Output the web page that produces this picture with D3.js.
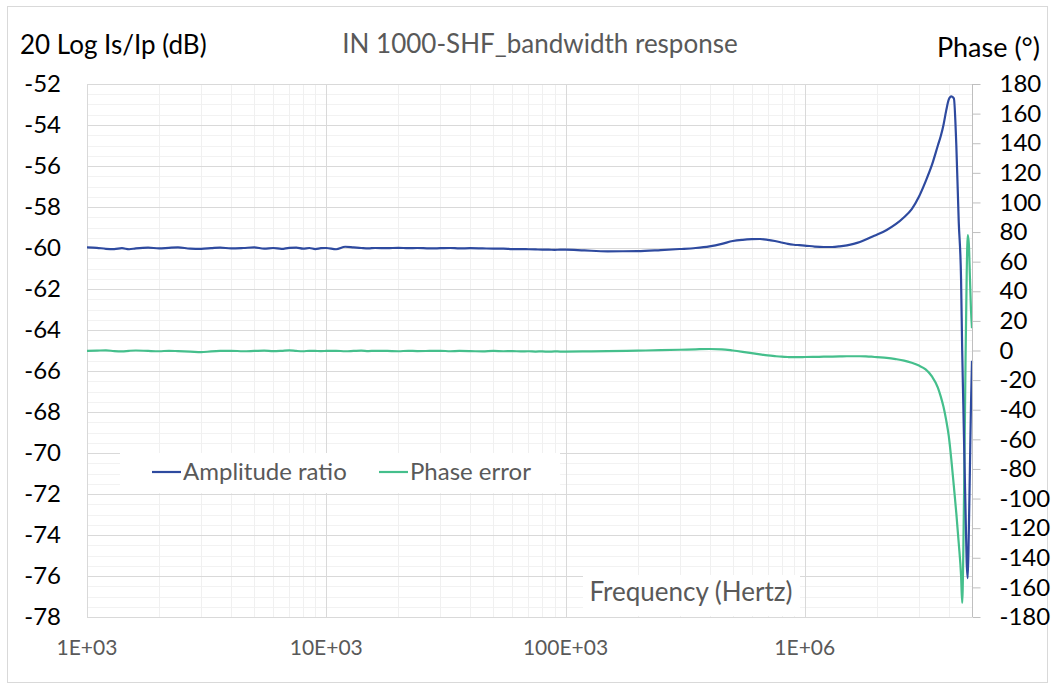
<!DOCTYPE html>
<html>
<head>
<meta charset="utf-8">
<script src="https://cdn.jsdelivr.net/npm/d3@7"></script>
<style>
  body { margin: 0; background: #fff; }
  text { font-family: Lato, "Open Sans", sans-serif; }
</style>
</head>
<body>
<div id="chart"></div>
<script>
// Frequencies in Hz
const freq = [
  1000, 1100, 1200, 1300, 1400, 1500, 1600, 1800, 2000, 2200, 2400, 2700, 3000, 3300, 3600, 4000, 4500, 5000, 5500, 6000, 6500, 7000, 7500, 8000, 8500, 9000, 9500,
  10000, 11000, 12000, 13000, 14000, 15000, 16000, 18000, 20000, 22000, 24000, 27000, 30000, 33000, 36000, 40000, 45000, 50000, 55000, 60000, 65000, 70000, 75000, 80000, 85000, 90000, 95000,
  100000, 120000, 150000, 200000, 250000, 300000, 350000, 400000, 450000, 500000, 550000, 600000, 650000, 700000, 750000, 800000, 850000, 900000, 950000,
  1.0e6, 1.1e6, 1.2e6, 1.3e6, 1.4e6, 1.5e6, 1.6e6, 1.7e6, 1.8e6, 1.9e6, 2.0e6, 2.2e6, 2.4e6, 2.6e6, 2.8e6, 3.0e6, 3.2e6, 3.4e6, 3.6e6, 3.7e6, 3.8e6, 3.9e6,
  4.0e6, 4.1e6, 4.2e6, 4.3e6, 4.4e6, 4.5e6, 4.55e6, 4.6e6, 4.65e6, 4.7e6, 4.75e6, 4.8e6, 4.85e6, 4.9e6, 4.95e6, 5.0e6
];

// Amplitude ratio, 20 log Is/Ip (dB)
const amplitude = [
  -59.97, -59.99, -60.04, -60.05, -60.01, -60.06, -60.02, -59.98, -60.02, -59.99, -59.97, -60.03, -60.04, -60.01, -59.98, -60.02, -60.0, -59.97, -60.03, -60.0, -60.04, -59.99, -59.98, -60.03, -60.0, -60.05, -60.01,
  -60.0, -60.06, -59.94, -59.97, -60.0, -60.02, -60.0, -60.01, -59.99, -60.01, -60.0, -60.02, -60.01, -60.0, -60.02, -60.01, -60.02, -60.03, -60.03, -60.05, -60.05, -60.06, -60.07, -60.08, -60.08, -60.09, -60.08,
  -60.08, -60.12, -60.16, -60.15, -60.1, -60.05, -60.0, -59.92, -59.8, -59.66, -59.6, -59.57, -59.56, -59.6, -59.66, -59.73, -59.8, -59.84, -59.86,
  -59.88, -59.93, -59.95, -59.95, -59.92, -59.87, -59.8, -59.71, -59.59, -59.46, -59.35, -59.12, -58.84, -58.5, -58.1, -57.5, -56.75, -55.95, -55.0, -54.55, -54.0, -53.3,
  -52.75, -52.6, -52.7, -55.0, -58.7, -61.5, -65.0, -67.7, -70.4, -72.9, -75.3, -76.1, -73.8, -70.8, -67.7, -65.5
];

// Phase error (degrees)
const phase = [
  -0.3, -0.1, 0.1, -0.4, -0.6, -0.2, 0.0, -0.3, -0.5, -0.2, -0.4, -0.7, -1.1, -0.6, -0.3, -0.2, -0.5, -0.3, -0.1, -0.4, -0.2, 0.1, -0.3, -0.5, -0.2, -0.3, -0.4,
  -0.3, -0.2, -0.5, -0.3, -0.1, -0.4, -0.2, -0.3, -0.5, -0.2, -0.4, -0.3, -0.2, -0.5, -0.3, -0.4, -0.6, -0.3, -0.5, -0.4, -0.6, -0.5, -0.7, -0.6, -0.8, -0.6, -0.7,
  -0.7, -0.6, -0.4, -0.1, 0.2, 0.5, 0.8, 1.0, 0.8, 0.0, -0.9, -1.8, -2.6, -3.3, -3.8, -4.2, -4.4, -4.5, -4.5,
  -4.4, -4.3, -4.2, -4.1, -4.0, -3.9, -3.9, -3.9, -4.0, -4.2, -4.5, -5.0, -5.8, -6.8, -8.3, -10.2, -12.8, -17.5, -25.0, -31.0, -38.0, -47.0,
  -58.0, -74.0, -92.0, -110.0, -130.0, -152.0, -170.5, -135.0, -75.0, -5.0, 50.0, 78.0, 72.0, 50.0, 28.0, 15.0
];

const leftTicks = [-52, -54, -56, -58, -60, -62, -64, -66, -68, -70, -72, -74, -76, -78];
const rightTicks = [180, 160, 140, 120, 100, 80, 60, 40, 20, 0, -20, -40, -60, -80, -100, -120, -140, -160, -180];
const xTicks = [1e3, 1e4, 1e5, 1e6];
const xTickLabels = ["1E+03", "10E+03", "100E+03", "1E+06"];

const width = 1055, height = 689;
const plot = { left: 87, top: 84, right: 972, bottom: 617 };

const svg = d3.select("#chart").append("svg")
  .attr("width", width)
  .attr("height", height);

// outer chart border
svg.append("rect")
  .attr("x", 7.5).attr("y", 6.5)
  .attr("width", 1040).attr("height", 676)
  .attr("fill", "#fff")
  .attr("stroke", "#d9d9d9");

const x = d3.scaleLog().domain([1e3, 5e6]).range([plot.left, plot.right]);
const yL = d3.scaleLinear().domain([-78, -52]).range([plot.bottom, plot.top]);
const yR = d3.scaleLinear().domain([-180, 180]).range([plot.bottom, plot.top]);

const grid = svg.append("g");

// minor gridlines
const minorY = d3.range(-78, -52, 0.5).filter(v => v % 2 !== 0);
grid.selectAll(".minor-y").data(minorY).enter().append("line")
  .attr("x1", plot.left).attr("x2", plot.right)
  .attr("y1", d => Math.round(yL(d)) + 0.5).attr("y2", d => Math.round(yL(d)) + 0.5)
  .attr("stroke", "#f2f2f2");

const minorX = x.ticks().filter(d => !xTicks.includes(d));
grid.selectAll(".minor-x").data(minorX).enter().append("line")
  .attr("y1", plot.top).attr("y2", plot.bottom)
  .attr("x1", d => Math.round(x(d)) + 0.5).attr("x2", d => Math.round(x(d)) + 0.5)
  .attr("stroke", "#f0f0f0");

// major gridlines
grid.selectAll(".major-y").data(leftTicks).enter().append("line")
  .attr("x1", plot.left).attr("x2", plot.right)
  .attr("y1", d => Math.round(yL(d)) + 0.5).attr("y2", d => Math.round(yL(d)) + 0.5)
  .attr("stroke", "#d9d9d9");

grid.selectAll(".major-x").data(xTicks).enter().append("line")
  .attr("y1", plot.top).attr("y2", plot.bottom)
  .attr("x1", d => Math.round(x(d)) + 0.5).attr("x2", d => Math.round(x(d)) + 0.5)
  .attr("stroke", "#d9d9d9");

// white boxes behind legend and x axis title
svg.append("rect").attr("x", 120).attr("y", 453).attr("width", 440).attr("height", 40).attr("fill", "#fff");
svg.append("rect").attr("x", 583).attr("y", 575).attr("width", 217).attr("height", 41).attr("fill", "#fff");

const data = freq.map((f, i) => ({ f, a: amplitude[i], p: phase[i] }));

const ampLine = d3.line().x(d => x(d.f)).y(d => yL(d.a)).curve(d3.curveMonotoneX);
const phaseLine = d3.line().x(d => x(d.f)).y(d => yR(d.p)).curve(d3.curveMonotoneX);

const blue = "#2e4a9f", green = "#45bf8c";

svg.append("path").datum(data)
  .attr("d", phaseLine)
  .attr("fill", "none").attr("stroke", green).attr("stroke-width", 2.2)
  .attr("stroke-linejoin", "round");

svg.append("path").datum(data)
  .attr("d", ampLine)
  .attr("fill", "none").attr("stroke", blue).attr("stroke-width", 2.2)
  .attr("stroke-linejoin", "round");

// right axis
const rightAxis = svg.append("g")
  .attr("transform", `translate(${plot.right + 0.5},0)`)
  .call(d3.axisRight(yR).tickValues(rightTicks).tickSize(8).tickPadding(19).tickFormat(d => d));
rightAxis.select(".domain").attr("stroke", "#bfbfbf").attr("d", `M0,${plot.top}V${plot.bottom}`);
rightAxis.selectAll(".tick line").attr("stroke", "#bfbfbf");
rightAxis.selectAll("text")
  .attr("fill", "#000").style("font-size", "24px")
  .text(d => d < 0 ? "-" + Math.abs(d) : d);

// left axis labels
svg.append("g").selectAll("text").data(leftTicks).enter().append("text")
  .attr("x", 61).attr("y", d => yL(d))
  .attr("dy", "0.35em")
  .attr("text-anchor", "end")
  .style("font-size", "24px")
  .attr("fill", "#000")
  .text(d => "-" + Math.abs(d));

// x axis labels
svg.append("g").selectAll("text").data(xTicks).enter().append("text")
  .attr("x", d => x(d)).attr("y", 648)
  .attr("dy", "0.35em")
  .attr("text-anchor", "middle")
  .style("font-size", "21px")
  .attr("fill", "#595959")
  .text((d, i) => xTickLabels[i]);

// titles
svg.append("text").attr("x", 20).attr("y", 45).attr("dy", "0.35em")
  .style("font-size", "26px").attr("fill", "#000")
  .text("20 Log Is/Ip (dB)");

svg.append("text").attr("x", 540).attr("y", 44).attr("dy", "0.35em")
  .attr("text-anchor", "middle")
  .style("font-size", "26px").attr("fill", "#595959")
  .text("IN 1000-SHF_bandwidth response");

svg.append("text").attr("x", 1040).attr("y", 48).attr("dy", "0.35em")
  .attr("text-anchor", "end")
  .style("font-size", "27px").attr("fill", "#000")
  .text("Phase (°)");

svg.append("text").attr("x", 691).attr("y", 592).attr("dy", "0.35em")
  .attr("text-anchor", "middle")
  .style("font-size", "26px").attr("fill", "#595959")
  .text("Frequency (Hertz)");

// legend
const legendItems = [
  { name: "Amplitude ratio", color: blue, x: 152 },
  { name: "Phase error", color: green, x: 379 }
];
const lg = svg.append("g").selectAll("g").data(legendItems).enter().append("g")
  .attr("transform", d => `translate(${d.x},472)`);
lg.append("line").attr("x1", 0).attr("x2", 29).attr("y1", 0).attr("y2", 0)
  .attr("stroke", d => d.color).attr("stroke-width", 2.2);
lg.append("text").attr("x", 31).attr("y", 0).attr("dy", "0.35em")
  .style("font-size", "24px").attr("fill", "#595959")
  .text(d => d.name);
</script>
</body>
</html>
